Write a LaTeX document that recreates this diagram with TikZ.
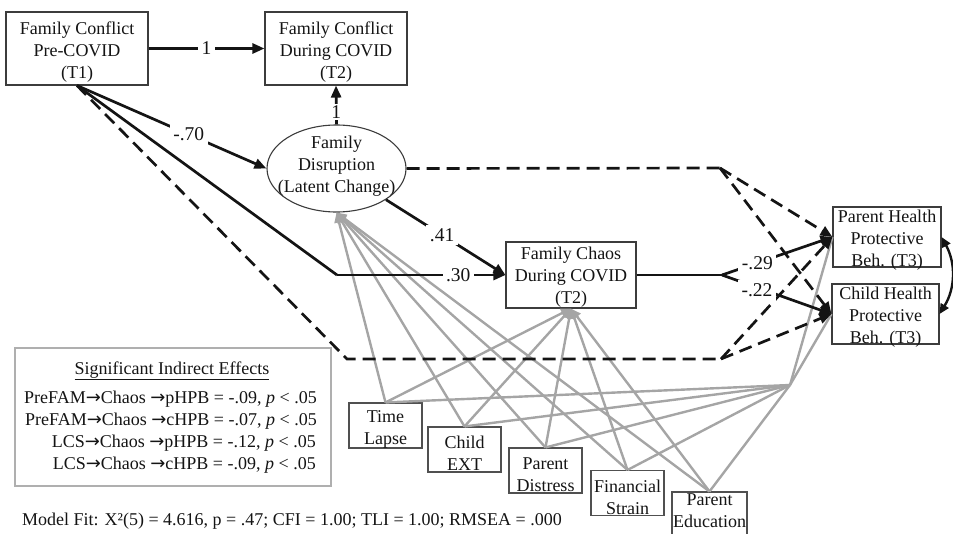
\documentclass[tikz,border=0pt]{standalone}
\usepackage{fontspec}
\setmainfont{Liberation Serif}
\newfontfamily\arrowfont{DejaVu Sans}
\usetikzlibrary{arrows.meta,shapes.geometric}

\definecolor{ink}{RGB}{20,20,20}
\definecolor{boxline}{RGB}{60,60,60}
\definecolor{covline}{RGB}{80,80,80}
\definecolor{sigline}{RGB}{175,175,175}
\definecolor{covgray}{RGB}{165,165,165}

% arrow glyph used in the indirect-effect list
\newcommand{\ra}{{\arrowfont →}}

\tikzset{
  mainfont/.style={font=\fontsize{18}{22}\selectfont},
  boxtext/.style={align=center, mainfont, text=ink, inner sep=0pt},
  box/.style={draw=boxline, line width=1.1pt, fill=white, inner sep=0pt},
  covbox/.style={box, draw=covline, minimum width=73pt, minimum height=45pt},
  latent/.style={ellipse, draw=boxline, line width=1.1pt, fill=white,
                 inner sep=0pt, minimum width=139pt, minimum height=87pt},
  solidarrow/.style={draw=ink, line width=2.7pt,
                     -{Triangle[length=12pt,width=10pt]}},
  solidline/.style={draw=ink, line width=2.7pt},
  dashline/.style={draw=ink, line width=2.7pt, dash pattern=on 13pt off 7pt},
  dasharrow/.style={dashline, -{Triangle[length=12pt,width=10pt]}},
  grayarrow/.style={draw=covgray, line width=2.4pt,
                    -{Triangle[length=10pt,width=9pt]}},
  grayline/.style={draw=covgray, line width=2.4pt},
  coef/.style={fill=white, inner sep=3.5pt, font=\fontsize{19.5}{22}\selectfont, text=ink},
  sigtext/.style={font=\fontsize{18}{22}\selectfont, text=ink, inner sep=0pt},
}

\begin{document}
\begin{tikzpicture}[x=1pt,y=-1pt]
\useasboundingbox (0,0) rectangle (953,533);

% ---- constructs ----
\node[box, minimum width=142pt, minimum height=73pt,
      label={[boxtext, yshift=-4pt]center:Family Conflict\\Pre-COVID\\(T1)}] (fc1) at (77,48.5) {};
\node[box, minimum width=142pt, minimum height=73pt,
      label={[boxtext, yshift=-4pt]center:Family Conflict\\During COVID\\(T2)}] (fc2) at (336,48.5) {};
\node[latent, label={[boxtext, yshift=2pt]center:Family\\Disruption\\(Latent Change)}]
  (ell) at (336.5,168.5) {};
\node[box, minimum width=130pt, minimum height=66pt,
      label={[boxtext, yshift=-2pt]center:Family Chaos\\During COVID\\(T2)}] (chaos) at (571,275) {};
\node[box, minimum width=108pt, minimum height=60pt,
      label={[boxtext, yshift=-3pt]center:Parent Health\\Protective\\Beh. (T3)}] (phpb) at (887,237) {};
\node[box, minimum width=107pt, minimum height=60pt,
      label={[boxtext, yshift=-3pt]center:Child Health\\Protective\\Beh. (T3)}] (chpb) at (885.5,314) {};

% ---- covariates ----
\node[covbox, label={[boxtext, yshift=-4pt]center:Time\\Lapse}] (tl) at (385.5,425.5) {};
\node[covbox, label={[boxtext, yshift=-4pt]center:Child\\EXT}] (ce) at (464.5,449.5) {};
\node[covbox, label={[boxtext, yshift=-4pt]center:Parent\\Distress}] (pd) at (545.5,470.5) {};
\node[covbox, label={[boxtext, yshift=-4pt]center:Financial\\Strain}] (fs) at (627.5,493) {};
\node[covbox, minimum width=75pt,
      label={[boxtext, yshift=3.5pt]center:Parent\\Education}] (pe) at (709.5,514.5) {};

% ---- bends and junctions ----
\coordinate (hub) at (790,385);
\coordinate (bend30) at (337,275);
\coordinate (bendlow) at (347,359);
\coordinate (lowfork) at (721,359);
\coordinate (topfork) at (720,168);
\coordinate (chaosfork) at (722,275);

% ---- covariate paths ----
\foreach \c in {tl,ce,pd,fs,pe}{
  \draw[grayarrow] (\c.north) -- (ell.south);
  \draw[grayarrow] (\c.north) -- (chaos.south);
  \draw[grayline] (\c.north) -- (hub);
}
\draw[grayline] (hub) -- (phpb.west);
\draw[grayline] (hub) -- (chpb.west);

% ---- direct (non-significant) paths ----
\draw[dashline] (fc1.south) -- (bendlow) -- (lowfork);
\draw[dasharrow] (lowfork) -- (phpb.west);
\draw[dasharrow] (lowfork) -- (chpb.west);
\draw[dashline] (ell.east) -- (topfork);
\draw[dasharrow] (topfork) -- (phpb.west);
\draw[dasharrow] (topfork) -- (chpb.west);

% ---- significant paths ----
\draw[solidarrow] (fc1.east) -- node[coef, pos=0.5] {1} (fc2.west);
\draw[solidarrow] (ell.north) -- node[coef, pos=0.32, inner sep=2pt] {1} (fc2.south);
\draw[solidarrow] (fc1.south) -- node[coef, pos=0.59] {-.70} (ell.west);
\draw[solidline] (fc1.south) -- (bend30);
\draw[solidarrow] (bend30) -- node[coef, pos=0.72] {.30} (chaos.west);
\draw[solidarrow] (ell) -- node[coef, pos=0.47] {.41} (chaos.west);
\draw[solidline] (chaos.east) -- (chaosfork);
\draw[solidarrow] (chaosfork) -- node[coef, pos=0.32] {-.29} (phpb.west);
\draw[solidarrow] (chaosfork) -- node[coef, pos=0.32, yshift=-3pt] {-.22} (chpb.west);

% ---- residual covariance ----
\draw[draw=ink, line width=2.4pt, {Triangle[length=10pt,width=9pt]}-{Triangle[length=10pt,width=9pt]}]
  (phpb.east) to[bend left=30] (chpb.east);

% ---- indirect effects panel ----
\node[draw=sigline, line width=1.1pt, minimum width=316pt, minimum height=138pt, inner sep=0pt]
  (sig) at (173,417) {};
\node[sigtext] (sigtitle) at (172,371) {\underline{Significant Indirect Effects}};
\node[sigtext, anchor=east] (ie1) at (317,399) {PreFAM\ra Chaos \ra pHPB = -.09, \textit{p} < .05};
\node[sigtext, anchor=east] (ie2) at (317,421) {PreFAM\ra Chaos \ra cHPB = -.07, \textit{p} < .05};
\node[sigtext, anchor=east] (ie3) at (316,443) {LCS\ra Chaos \ra pHPB = -.12, \textit{p} < .05};
\node[sigtext, anchor=east] (ie4) at (316,465) {LCS\ra Chaos \ra cHPB = -.09, \textit{p} < .05};

% ---- fit statistics ----
\node[anchor=west, inner sep=0pt, font=\fontsize{18}{20}\selectfont, text=ink] (fit) at (22,521)
  {Model Fit: X²(5) = 4.616, p = .47; CFI = 1.00; TLI = 1.00; RMSEA = .000};
\end{tikzpicture}
\end{document}
